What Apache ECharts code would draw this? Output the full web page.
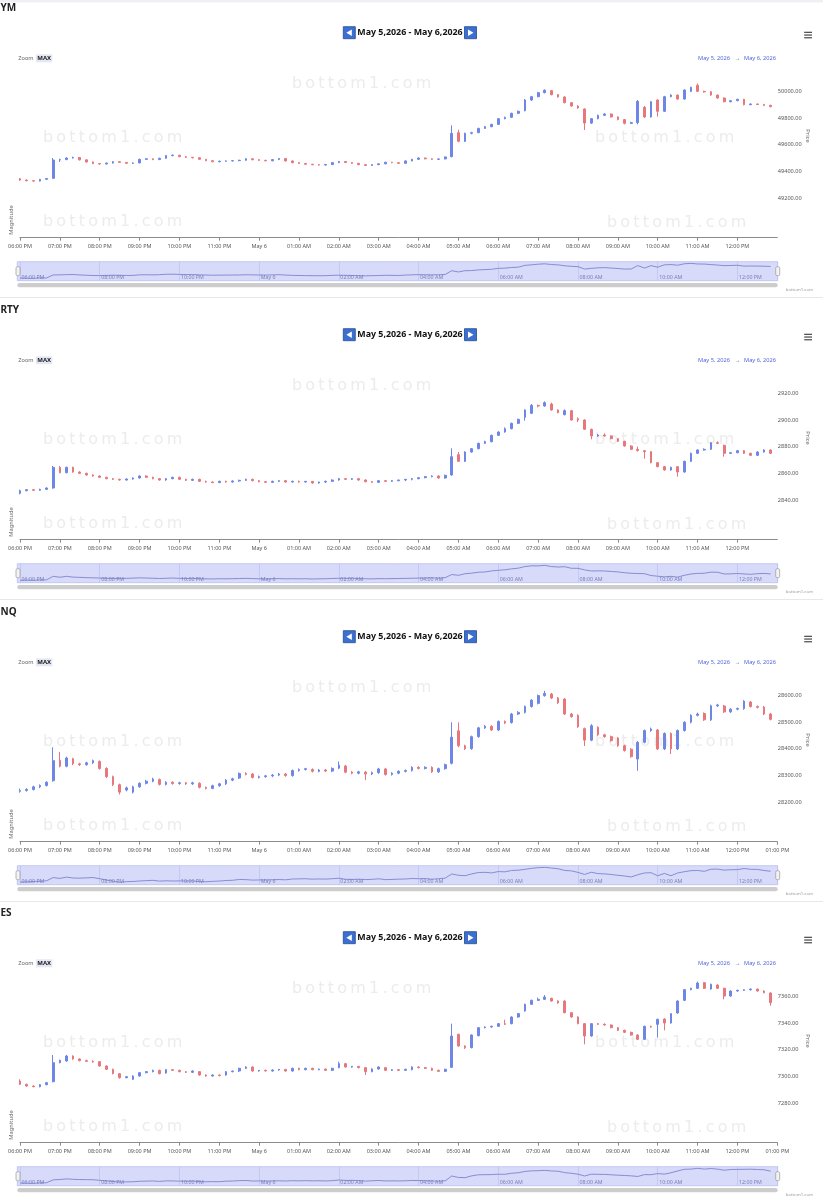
<!DOCTYPE html>
<html><head><meta charset="utf-8">
<script src="https://cdn.jsdelivr.net/npm/echarts@6/dist/echarts.min.js"></script>
<style>
html,body{margin:0;padding:0;overflow:hidden;background:#fff;width:823px;height:1200px}
.p{position:absolute;left:0;width:823px;height:302px}
</style>
</head><body>
<div id="c0" class="p" style="top:0px"></div>
<div id="c1" class="p" style="top:301.8px"></div>
<div id="c2" class="p" style="top:603.6px"></div>
<div id="c3" class="p" style="top:905.4px"></div>
<script>
// ---------- data ----------
const symbols = ['YM', 'RTY', 'NQ', 'ES'];
const navText = 'May 5,2026 - May 6,2026';
const rangeFrom = 'May 5, 2026';
const rangeTo = 'May 6, 2026';
const stepMinutes = 10;          // spacing of candles, minutes after 06:00 PM
const axisSpanMinutes = 1140;    // 06:00 PM -> 01:00 PM
const priceMin = [49200, 2840, 28200, 7280];
const priceStep = [200, 20, 100, 20];
const showLastTimeLabel = [false, false, true, true];

// candles: [open, close, low, high]
const ymCandles = [
[49345,49335,49328,49350],[49335,49330,49325,49338],[49330,49327,49322,49333],[49327,49340,49324,49343],[49340,49346,49337,49350],
[49348,49485,49345,49500],[49485,49488,49470,49495],[49488,49500,49484,49505],[49500,49504,49496,49510],[49504,49486,49482,49507],
[49486,49470,49466,49489],[49470,49458,49454,49473],[49458,49455,49450,49461],[49455,49462,49452,49466],[49462,49472,49459,49476],
[49472,49467,49463,49475],[49467,49460,49456,49470],[49460,49463,49456,49467],[49463,49490,49460,49495],[49490,49494,49486,49498],
[49494,49488,49484,49497],[49488,49498,49485,49502],[49498,49518,49495,49522],[49518,49521,49513,49526],[49521,49510,49506,49524],
[49510,49505,49501,49513],[49505,49502,49497,49508],[49502,49490,49486,49505],[49490,49480,49476,49493],[49480,49472,49468,49483],
[49472,49476,49468,49480],[49476,49478,49472,49482],[49478,49480,49474,49483],[49480,49483,49475,49487],[49483,49494,49480,49498],
[49494,49487,49483,49497],[49487,49483,49479,49490],[49483,49479,49475,49486],[49479,49488,49476,49492],[49488,49496,49485,49500],
[49496,49478,49474,49499],[49478,49465,49461,49481],[49465,49459,49455,49468],[49459,49453,49449,49462],[49453,49450,49446,49456],
[49450,49447,49443,49453],[49447,49451,49443,49455],[49451,49465,49448,49469],[49465,49474,49462,49478],[49474,49466,49462,49477],
[49466,49460,49456,49469],[49460,49450,49446,49463],[49450,49444,49440,49453],[49444,49450,49441,49454],[49450,49456,49447,49460],
[49456,49468,49453,49472],[49468,49465,49461,49471],[49465,49460,49456,49468],[49460,49478,49457,49482],[49478,49490,49475,49494],
[49490,49500,49486,49504],[49500,49494,49490,49503],[49494,49490,49486,49497],[49490,49493,49486,49497],[49493,49508,49490,49512],
[49510,49685,49505,49745],[49690,49625,49618,49712],[49625,49685,49620,49690],[49685,49690,49678,49697],[49690,49722,49686,49727],
[49722,49735,49718,49740],[49735,49752,49731,49757],[49752,49795,49748,49800],[49795,49805,49790,49810],[49805,49835,49800,49840],
[49835,49850,49830,49856],[49855,49935,49850,49942],[49935,49960,49928,49966],[49960,49990,49955,49996],[49990,50008,49985,50015],
[50005,49975,49970,50010],[49975,49958,49953,49980],[49958,49915,49910,49962],[49915,49890,49885,49920],[49890,49875,49870,49895],
[49868,49762,49710,49872],[49762,49795,49755,49800],[49795,49820,49790,49825],[49820,49830,49815,49836],[49830,49808,49803,49834],
[49808,49788,49783,49812],[49788,49760,49752,49792],[49760,49765,49755,49772],[49765,49925,49752,49935],[49880,49808,49800,49890],
[49808,49922,49803,49928],[49935,49850,49810,49940],[49850,49960,49845,49966],[49960,49972,49955,49978],[49972,49942,49937,49976],
[49942,50010,49938,50015],[50000,50030,49995,50035],[50045,50000,49995,50058],[50000,49996,49990,50005],[49996,49972,49967,50002],
[49972,49950,49945,49976],[49950,49922,49917,49954],[49922,49930,49918,49935],[49930,49940,49926,49945],[49940,49900,49895,49944],
[49900,49905,49896,49910],[49905,49901,49897,49909],[49901,49895,49890,49906],[49895,49885,49880,49899]
];
const rtyCandles = [
[2845,2847,2844.25,2847.75],[2847,2847.75,2846.5,2848.25],[2847.75,2847.25,2846.75,2848.25],[2847.25,2848,2846.75,2848.5],[2848,2849,2847.5,2849.5],
[2849,2864.5,2848.5,2865.5],[2864.5,2860.5,2860,2865.5],[2860.5,2864.5,2860,2865],[2864.5,2861,2860.5,2865],[2861,2860,2859.5,2861.5],
[2860,2858.75,2858.25,2860.5],[2858.75,2858,2857.5,2859.25],[2858,2857,2856.5,2858.5],[2857,2856,2855.5,2857.5],[2856,2855.5,2855,2856.5],
[2855.5,2855,2854.5,2856],[2855,2855.75,2854.5,2856.25],[2855.75,2856.5,2855.25,2857],[2856.5,2858,2856,2858.5],[2858,2857,2856.5,2858.5],
[2857,2856,2855.5,2857.5],[2856,2855,2854.5,2856.5],[2855,2856,2854.5,2856.5],[2856,2857,2855.5,2857.5],[2857,2855.5,2855,2857.5],
[2855.5,2854.75,2854.25,2856],[2854.75,2855.5,2854.25,2856],[2855.5,2854,2853.5,2856],[2854,2853.5,2853,2854.5],[2853.5,2853,2852.75,2854],
[2853,2854,2852.75,2854.5],[2854,2853.5,2853,2854.5],[2853.5,2854.25,2853,2854.75],[2854.25,2854.75,2853.75,2855.25],[2854.75,2855.5,2854.25,2856],
[2855.5,2854.5,2854,2856],[2854.5,2853.75,2853.25,2855],[2853.75,2853.25,2852.75,2854.25],[2853.25,2854,2852.75,2854.5],[2854,2854.5,2853.5,2855],
[2854.5,2853.5,2853,2855],[2853.5,2854,2853,2854.5],[2854,2853.5,2853,2854.5],[2853.5,2854,2853,2854.25],[2854,2852.75,2852.25,2854.25],
[2852.75,2853.5,2852.25,2853.75],[2853.5,2854,2852.75,2854.5],[2854,2855,2853.5,2855.5],[2855,2856,2854.5,2856.5],[2856,2855.5,2855,2856.5],
[2855.5,2856,2855,2856.5],[2856,2855,2854.5,2856.5],[2855,2853.75,2853.25,2855.5],[2853.75,2853.25,2852.75,2854.25],[2853.25,2854.5,2852.75,2855],
[2854.5,2854,2853.5,2855],[2854,2854.5,2853.5,2855],[2854.5,2855,2854,2855.25],[2855,2855.5,2854.25,2855.75],[2855.5,2856,2854.75,2856.5],
[2856,2856.75,2855.5,2857.25],[2856.75,2857.5,2856.25,2858],[2857.5,2858,2857,2858.5],[2858,2856.5,2856,2858.5],[2856.5,2858.5,2856,2859],
[2858.75,2872.5,2858.25,2878.75],[2874,2869,2868.5,2876],[2869,2876,2868.5,2876.5],[2876,2878.5,2875.5,2879],[2878.5,2882.5,2878,2883],
[2882.5,2883.75,2882,2884.5],[2883.75,2888.5,2883.25,2889],[2888.5,2891,2888,2891.5],[2891,2893.5,2890.5,2894.5],[2893.5,2897.5,2893,2898],
[2897.5,2900.5,2897,2901],[2902,2907.5,2899.5,2908],[2905,2911,2904.5,2912],[2911,2910.5,2909.5,2911.5],[2910.5,2913,2910,2914],
[2912,2907.5,2907,2913],[2907.5,2905.5,2905,2908],[2904,2907,2903.5,2908],[2907,2900,2899.5,2907.5],[2901,2900,2898.5,2902],
[2900,2893,2892.5,2900.5],[2893,2888,2885.5,2893.5],[2888,2888.75,2887.5,2889.5],[2888.75,2888,2887.5,2890],[2888,2886,2885.5,2888.5],
[2886,2884,2883.5,2886.5],[2884,2880.5,2880,2884.5],[2880.5,2878,2877.5,2881],[2878,2877,2876.5,2880],[2877,2876.25,2871,2877.5],
[2876.25,2868,2867.5,2876.75],[2868,2865,2864.5,2868.5],[2865,2862.5,2862,2865.5],[2862.5,2864.5,2862,2865],[2865,2861,2857.5,2865.5],
[2861,2869,2860.5,2869.5],[2869,2875,2868.5,2875.5],[2875,2877.5,2874.5,2878],[2877.5,2878,2877,2878.75],[2878,2883,2877.5,2883.5],
[2883,2882.5,2882,2884],[2881,2875,2872.5,2881.5],[2875,2875.5,2874.5,2876],[2875.5,2877,2875,2877.5],[2877,2875,2874.5,2877.5],
[2875,2873.5,2873,2875.5],[2873.5,2876,2873,2876.5],[2876,2877.5,2875.5,2878],[2877.5,2875,2874.5,2878]
];
const nqCandles = [
[28240,28243,28235,28250],[28243,28247,28239,28252],[28247,28257,28243,28261],[28257,28262,28252,28266],[28262,28274,28258,28278],
[28280,28355,28276,28405],[28357,28334,28330,28388],[28334,28365,28330,28370],[28362,28343,28338,28366],[28343,28340,28335,28347],
[28340,28347,28336,28351],[28347,28355,28343,28359],[28352,28326,28321,28356],[28326,28295,28290,28330],[28295,28265,28260,28299],
[28265,28237,28228,28269],[28245,28253,28240,28258],[28237,28257,28232,28261],[28257,28270,28253,28274],[28270,28278,28266,28283],
[28278,28286,28274,28291],[28284,28266,28262,28288],[28266,28274,28262,28278],[28274,28269,28265,28278],[28269,28272,28265,28276],
[28272,28268,28264,28275],[28268,28272,28264,28276],[28270,28255,28251,28274],[28255,28251,28247,28258],[28251,28261,28248,28265],
[28261,28268,28257,28272],[28268,28282,28264,28286],[28282,28287,28278,28291],[28290,28307,28286,28311],[28307,28303,28300,28312],
[28305,28292,28288,28309],[28292,28295,28288,28299],[28295,28298,28291,28301],[28298,28301,28293,28305],[28301,28305,28297,28309],
[28305,28299,28295,28309],[28299,28318,28295,28322],[28318,28322,28314,28326],[28322,28325,28318,28328],[28322,28315,28311,28326],
[28315,28320,28311,28324],[28320,28316,28312,28324],[28316,28326,28312,28330],[28327,28338,28323,28352],[28335,28312,28308,28339],
[28312,28308,28304,28316],[28308,28313,28304,28317],[28312,28305,28282,28316],[28305,28310,28301,28314],[28310,28324,28306,28328],
[28324,28303,28299,28328],[28303,28308,28299,28312],[28308,28315,28304,28319],[28315,28318,28311,28322],[28318,28330,28314,28334],
[28330,28326,28322,28334],[28326,28330,28322,28334],[28330,28313,28309,28334],[28313,28325,28309,28329],[28325,28340,28321,28344],
[28345,28443,28341,28499],[28467,28411,28405,28499],[28411,28400,28395,28415],[28400,28445,28396,28449],[28445,28478,28441,28482],
[28478,28484,28474,28489],[28484,28470,28466,28488],[28470,28502,28466,28506],[28502,28496,28492,28506],[28498,28530,28494,28534],
[28530,28536,28526,28541],[28536,28558,28532,28562],[28558,28582,28554,28586],[28570,28599,28566,28603],[28599,28607,28595,28617],
[28605,28590,28586,28609],[28590,28572,28568,28594],[28586,28530,28526,28590],[28530,28520,28516,28534],[28525,28482,28478,28529],
[28475,28432,28410,28479],[28432,28486,28428,28492],[28480,28452,28448,28484],[28452,28445,28441,28456],[28445,28430,28426,28449],
[28440,28411,28407,28444],[28411,28393,28389,28415],[28398,28370,28366,28402],[28361,28424,28317,28428],[28424,28468,28420,28472],
[28468,28474,28463,28479],[28470,28399,28395,28474],[28399,28457,28395,28461],[28457,28399,28380,28461],[28399,28468,28395,28472],
[28468,28499,28464,28503],[28499,28525,28495,28529],[28525,28530,28521,28535],[28532,28508,28504,28536],[28508,28561,28504,28565],
[28561,28564,28556,28568],[28560,28538,28534,28564],[28538,28548,28534,28552],[28548,28551,28544,28554],[28550,28578,28546,28582],
[28575,28558,28554,28579],[28558,28555,28551,28562],[28556,28530,28526,28560],[28530,28510,28506,28534]
];
const esCandles = [
[7296.5,7294,7293.5,7297.75],[7294,7292.75,7292.25,7294.5],[7292.75,7292.25,7291.75,7293.25],[7292.25,7293.75,7291.75,7294.25],[7293.75,7295.25,7293.25,7295.75],
[7296,7310.25,7295.5,7316],[7310.25,7312,7309.75,7312.5],[7311.5,7315.25,7311,7316],[7315.25,7313,7312.5,7315.75],[7313,7311.75,7311.25,7313.5],
[7311.75,7311.25,7310.75,7312.5],[7311.25,7310.75,7310.25,7312],[7311,7307.75,7307.25,7311.5],[7307.75,7305.25,7304.75,7308.25],[7305.25,7302,7301.5,7305.75],
[7302,7299,7298.25,7302.5],[7299,7299.75,7298.5,7300],[7297.75,7300.25,7297.25,7300.75],[7300.25,7302.75,7299.75,7303.25],[7302.75,7303.5,7302.25,7304],
[7303.5,7304.5,7303,7305],[7304.5,7302,7301.5,7305],[7302.5,7305,7302,7305.5],[7305,7304.5,7304,7305.5],[7304.5,7303.5,7303,7305],
[7303.5,7303,7302.5,7304],[7303,7304,7302.5,7304.5],[7303.5,7301,7300.5,7304],[7301,7300.25,7299.75,7301.5],[7300.25,7301,7299.75,7301.5],
[7301,7300.5,7300,7301.5],[7301,7303.5,7300.5,7304],[7303.5,7304,7303,7304.25],[7304,7306,7303.25,7306.5],[7306,7307,7305.5,7307.5],
[7307,7304,7303.5,7307.5],[7304,7304.5,7303.5,7304.75],[7304.5,7304,7303.75,7305],[7304,7304.75,7303.5,7305.25],[7304.75,7305.25,7304.25,7305.5],
[7305.25,7304,7303.5,7305.5],[7304,7306,7303.5,7306.5],[7306,7305,7304.5,7306.5],[7305,7306,7304.5,7306.5],[7306,7305,7304.5,7306.5],
[7305,7305.5,7304.5,7305.75],[7305.5,7304.5,7304,7305.75],[7304.5,7306,7304,7306.5],[7306.5,7309.5,7306,7311],[7309.5,7307,7306.5,7310],
[7307,7307.5,7306.5,7307.75],[7307.5,7306.5,7306,7307.75],[7306.5,7303.5,7301,7307],[7303.5,7305.5,7303,7306],[7305.5,7307,7305,7307.5],
[7306.5,7304.5,7304,7307],[7304.5,7305,7304,7305.5],[7305,7304.5,7304.25,7305.5],[7304.5,7305.25,7304.25,7305.75],[7305,7307,7304.5,7307.5],
[7307,7306.5,7306,7307.5],[7306.5,7306,7305.5,7307],[7306,7304.5,7304,7306.5],[7304.5,7303.75,7303.25,7305],[7303.75,7305.25,7303.25,7305.75],
[7306.75,7330.25,7306.25,7339.5],[7331.5,7322.75,7322.25,7332],[7322.75,7321.5,7320.5,7323.25],[7321.5,7331,7321,7331.5],[7330.5,7336.5,7330,7337],
[7336.5,7337,7336,7337.5],[7337,7337.5,7336.5,7338],[7337.5,7339.5,7337,7340],[7339.5,7339,7338.5,7342.5],[7339.5,7344.5,7339,7345],
[7344.5,7347,7344,7347.5],[7349,7354,7348.5,7354.5],[7354,7357,7353.5,7357.5],[7357,7357.75,7356.5,7359],[7357.75,7359.5,7357.25,7361],
[7358.5,7356.5,7356,7359],[7356.5,7355,7354.5,7357],[7356.5,7347.75,7347.25,7357],[7347.75,7344.5,7344,7348.25],[7344.5,7339.5,7339,7345],
[7339.5,7330.25,7324,7340],[7330.25,7339.5,7329.75,7340],[7339.5,7339,7338.5,7340],[7339,7338.5,7338,7339.75],[7338.5,7336.5,7336,7339],
[7336.5,7334.5,7334,7337],[7334.5,7333,7332.5,7335],[7333,7331,7330.5,7333.5],[7331,7327.75,7327.25,7331.5],[7327.75,7337.5,7327.25,7338],
[7337.5,7337,7336.5,7338],[7339,7342.75,7329,7343.25],[7343,7340,7334.5,7343.5],[7340,7347,7339.5,7347.5],[7347.5,7356.5,7347,7357],
[7357,7365,7356.5,7365.5],[7365,7366,7364.5,7366.5],[7366,7370,7365.5,7371],[7370.25,7366,7365.5,7370.75],[7365.5,7369,7365,7369.5],
[7368.5,7366,7365.5,7369],[7366,7360.25,7357.75,7366.5],[7360.25,7364,7359.75,7364.5],[7364,7364.5,7363.5,7365],[7364.5,7365,7364,7365.25],
[7365,7365.5,7364.25,7365.75],[7365.5,7364,7363.5,7365.75],[7364,7362.75,7362.25,7364.5],[7362.5,7355.25,7353,7363]
];
const allCandles = [ymCandles, rtyCandles, nqCandles, esCandles];

// ---------- styling ----------
const UP = '#6e87e6', DOWN = '#e6787d';
const FF = '"Noto Sans", "Open Sans", sans-serif';

function timeLabel(m) {
  const h = (18 + Math.round(m / 60)) % 24;
  if (h === 0) return 'May 6';
  const h12 = h % 12 === 0 ? 12 : h % 12;
  return (h12 < 10 ? '0' : '') + h12 + ':00 ' + (h < 12 ? 'AM' : 'PM');
}

function T(text, x, y, size, fill, o) {
  o = o || {};
  const al = o.align || 'left';
  const el = {
    type: 'text', x: x, y: y, z: o.z == null ? 5 : o.z, silent: true,
    style: {
      text: text, x: 0, y: 0, fontSize: size, fontFamily: o.family || FF,
      fontWeight: o.weight || 'normal', fill: fill,
      align: al, textAlign: al, verticalAlign: 'middle', textVerticalAlign: 'middle'
    }
  };
  if (o.rot) el.rotation = o.rot;
  return el;
}
function R(x, y, w, h, fill, o) {
  o = o || {};
  return { type: 'rect', z: o.z == null ? 5 : o.z, silent: true,
    shape: { x: x, y: y, width: w, height: h, r: o.r || 0 },
    style: { fill: fill, stroke: o.stroke || null, lineWidth: o.lw || 0 } };
}

function build(k) {
  const candles = allCandles[k];
  const lo = priceMin[k], st = priceStep[k], hi = lo + 5 * st;
  const data = candles.map((c, i) => [i * stepMinutes, c[0], c[1], c[2], c[3]]);
  const nav = candles.map((c, i) => [i * stepMinutes, c[1]]);

  const wm = 'b\u2009o\u2009t\u2009t\u2009o\u2009m\u20091\u2009.\u2009c\u2009o\u2009m';
  const WMC = '#ececec';
  const g = [];
  if (k === 0) g.push(R(0, 0, 823, 2.5, '#eef0f4', { z: 1 }));
  g.push(R(0, 297, 823, 1, '#e8e8e8', { z: 1 }));
  // watermarks
  [[292, 84], [43, 138], [595, 138], [43, 222], [607, 223]].forEach(p =>
    g.push(T(wm, p[0], p[1], 16, WMC, { family: '"DejaVu Sans", sans-serif', z: 0 })));
  // title
  g.push(T(symbols[k], 0.5, 8, 10, '#222', { weight: 'bold' }));
  // navigation buttons
  g.push(R(343.3, 26.7, 12, 12, '#3b6fd1', { stroke: '#23498f', lw: 0.8 }));
  g.push({ type: 'polygon', z: 6, silent: true, shape: { points: [[346.3, 32.7], [351.8, 29.5], [351.8, 35.9]] }, style: { fill: '#fff' } });
  g.push(R(464.5, 26.7, 12, 12, '#3b6fd1', { stroke: '#23498f', lw: 0.8 }));
  g.push({ type: 'polygon', z: 6, silent: true, shape: { points: [[468, 29.5], [473.5, 32.7], [468, 35.9]] }, style: { fill: '#fff' } });
  g.push(T(navText, 410, 32.8, 8.9, '#111', { weight: 'bold', align: 'center' }));
  // menu icon
  [32.3, 35, 37.7].forEach(y => g.push(R(804.2, y - 0.6, 7.8, 1.3, '#555')));
  // zoom
  g.push(T('Zoom', 18.3, 58.3, 5.6, '#666'));
  g.push(R(36, 54.3, 16.3, 8, '#e4e8f4'));
  g.push(T('MAX', 44.2, 58.3, 6, '#222', { weight: 'bold', align: 'center' }));
  // range
  g.push(T(rangeFrom, 698, 58, 5.7, '#5566dd'));
  g.push(T('\u2192', 737.5, 58, 5.7, '#5566dd', { align: 'center' }));
  g.push(T(rangeTo, 744, 58, 5.7, '#5566dd'));
  // axis names
  g.push(T('Price', 808, 136, 5.8, '#666', { align: 'center', rot: -Math.PI / 2 }));
  g.push(T('Magnitude', 11, 220, 5.8, '#666', { align: 'center', rot: Math.PI / 2 }));
  // navigator
  g.push(R(17.3, 261.7, 760.4, 19, '#d7daf9', { stroke: '#b9bff0', lw: 0.8, z: 0 }));
  g.push(R(16, 266.7, 4, 9, '#f3f3f3', { stroke: '#999', lw: 0.7, r: 1.5, z: 20 }));
  g.push(R(775.7, 266.7, 4, 9, '#f3f3f3', { stroke: '#999', lw: 0.7, r: 1.5, z: 20 }));
  g.push(R(17.3, 283, 760.4, 4.2, '#cdcdcd', { r: 2 }));
  g.push(T('bottom1.com', 813, 289.5, 4.3, '#999', { align: 'right' }));

  const xBase = { type: 'value', min: 0, max: axisSpanMinutes, interval: 60 };
  return {
    animation: false,
    textStyle: { fontFamily: FF },
    grid: [
      { left: 20, width: 757.3, top: 64.67, height: 133.33 },
      { left: 20, width: 757.3, top: 198, height: 39.7 },
      { left: 20, width: 757.3, top: 261.7, height: 19 }
    ],
    xAxis: [
      Object.assign({}, xBase, { gridIndex: 0, show: false }),
      Object.assign({}, xBase, {
        gridIndex: 1,
        axisLine: { lineStyle: { color: '#8c8c8c', width: 1 } },
        axisTick: { length: 3, lineStyle: { color: '#8c8c8c' } },
        splitLine: { show: false },
        axisLabel: { fontSize: 5.5, color: '#555', margin: 6, showMaxLabel: showLastTimeLabel[k], showMinLabel: true, formatter: timeLabel }
      }),
      { type: 'value', gridIndex: 2, min: 0, max: axisSpanMinutes, interval: 120, z: 3,
        axisLine: { show: false }, axisTick: { show: false },
        splitLine: { show: true, lineStyle: { color: '#bfc4f1', width: 0.8 } },
        axisLabel: { inside: true, fontSize: 5.3, color: '#7a80b8', margin: 0.5, align: 'left', padding: [0, 0, 0, 1.5], showMaxLabel: false, formatter: timeLabel } }
    ],
    yAxis: [
      { type: 'value', gridIndex: 0, position: 'right', min: lo, max: hi, interval: st,
        axisLine: { show: false }, axisTick: { show: false }, splitLine: { show: false },
        axisLabel: { fontSize: 5.6, color: '#555', margin: 0.5, showMaxLabel: false, formatter: v => v.toFixed(2) } },
      { type: 'value', gridIndex: 1, show: false, min: 0, max: 1 },
      { type: 'value', gridIndex: 2, show: false,
        min: v => v.min - (v.max - v.min) * 0.16, max: v => v.max + (v.max - v.min) * 0.11 }
    ],
    series: [
      { type: 'candlestick', xAxisIndex: 0, yAxisIndex: 0, data: data,
        encode: { x: 0, y: [1, 2, 3, 4] }, barWidth: 2.2, silent: true, z: 4,
        itemStyle: { color: UP, color0: DOWN, borderColor: UP, borderColor0: DOWN, borderWidth: 1 } },
      { type: 'line', xAxisIndex: 2, yAxisIndex: 2, data: nav, showSymbol: false, silent: true, z: 4,
        lineStyle: { color: '#7379c9', width: 0.8 } }
    ],
    graphic: { elements: g }
  };
}

for (let k = 0; k < 4; k++) {
  const chart = echarts.init(document.getElementById('c' + k), null, { renderer: 'canvas' });
  chart.setOption(build(k));
}
</script>
</body></html>
